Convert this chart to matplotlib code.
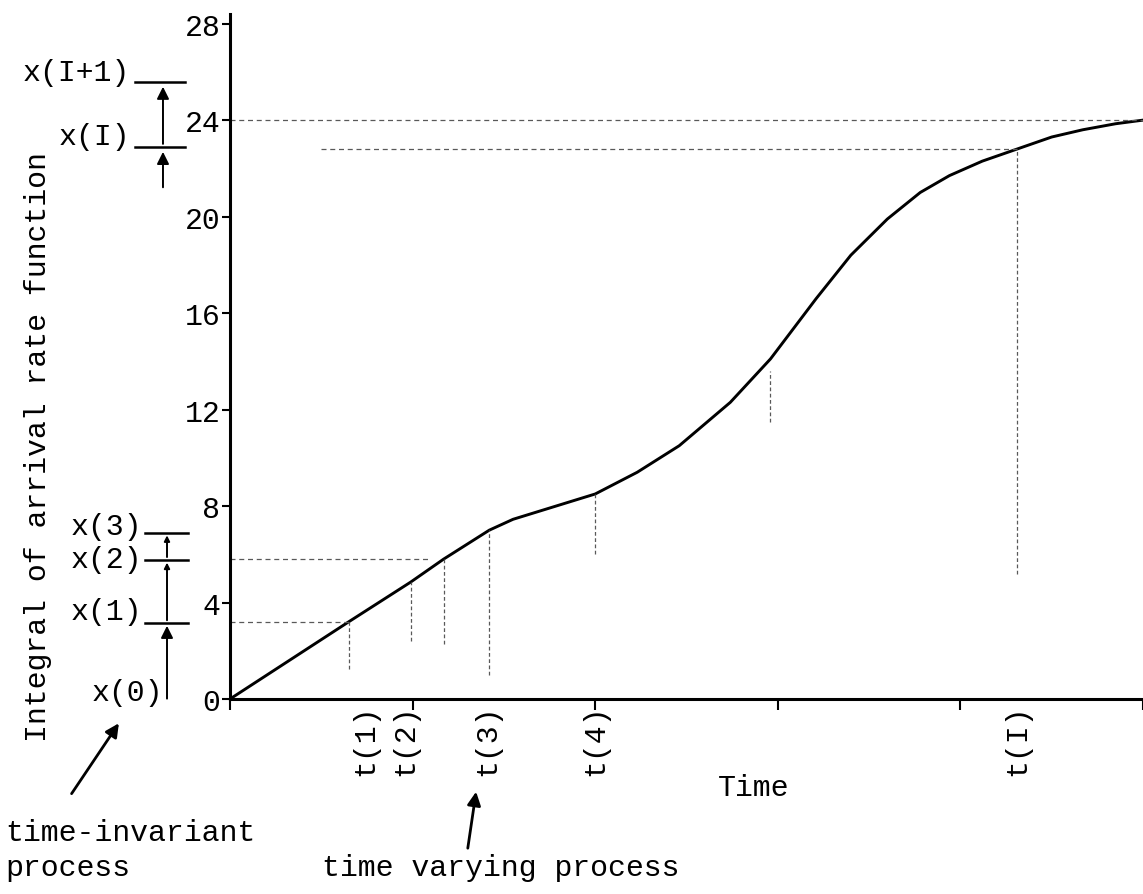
import matplotlib
matplotlib.use("Agg")
import matplotlib.pyplot as plt

# ---- data ----
# integral of the arrival rate function vs time (time axis units = major ticks)
curve_t = [0.0, 0.65, 0.99, 1.17, 1.42, 1.55, 1.7, 2.0, 2.23, 2.46, 2.74, 2.96, 3.21,
           3.4, 3.6, 3.78, 3.94, 4.12, 4.31, 4.5, 4.67, 4.85, 5.0]
curve_v = [0.0, 3.2, 4.85, 5.8, 7.0, 7.45, 7.8, 8.5, 9.4, 10.5, 12.3, 14.1, 16.6,
           18.4, 19.9, 21.0, 21.7, 22.3, 22.8, 23.3, 23.6, 23.85, 24.0]

y_ticks = [0, 4, 8, 12, 16, 20, 24, 28]
x_ticks = [0, 1, 2, 3, 4, 5]

# event times t(k) and their labels
t_names = ["t(1)", "t(2)", "t(3)", "t(4)", "t(I)"]
t_label_pos = [0.74, 0.96, 1.41, 2.0, 4.31]

# dotted guide lines: (x, y_top, y_bottom) and (y, x_left, x_right)
v_guides = [(0.65, 3.2, 1.25), (0.99, 4.85, 2.4), (1.17, 5.8, 2.3), (1.42, 7.0, 1.0),
            (2.0, 8.5, 6.0), (2.96, 13.6, 11.5), (4.31, 22.8, 5.2)]
h_guides = [(3.2, 0.0, 0.65), (5.8, 0.0, 1.1), (24.0, 0.0, 5.0), (22.8, 0.5, 4.31)]

# x(k) levels on the time-invariant scale
x_low_names = ["x(1)", "x(2)", "x(3)"]
x_low_levels = [3.15, 5.77, 6.9]
x_high_names = ["x(I)", "x(I+1)"]
x_high_levels = [22.9, 25.6]

FONT = "Liberation Mono"
FS = 21.5

fig = plt.figure(figsize=(11.43, 8.95), dpi=100)
ax = fig.add_axes([230 / 1143, 195 / 895, 913 / 1143, 685 / 895])

ax.plot(curve_t, curve_v, color="black", lw=2.1, solid_joinstyle="round")

for x, y0, y1 in v_guides:
    ax.plot([x, x], [y1, y0], color="0.35", lw=0.9, ls=(0, (3, 2)))
for y, x0, x1 in h_guides:
    ax.plot([x0, x1], [y, y], color="0.35", lw=0.9, ls=(0, (4, 3)))

ax.set_xlim(0, 5)
ax.set_ylim(0, 28.4)
ax.set_yticks(y_ticks)
ax.set_yticklabels([str(v) for v in y_ticks], fontfamily=FONT, fontsize=FS)
ax.set_xticks(x_ticks)
ax.set_xticklabels([])
ax.tick_params(axis="y", direction="out", length=6, width=1.5, pad=1)
ax.tick_params(axis="x", direction="out", length=8, width=1.5)
for side in ["top", "right"]:
    ax.spines[side].set_visible(False)
for side in ["left", "bottom"]:
    ax.spines[side].set_linewidth(2.2)

# t(k) labels under the axis, rotated
for name, pos in zip(t_names, t_label_pos):
    ax.text(pos, -0.2, name, rotation=90, ha="center", va="top",
            fontfamily=FONT, fontsize=FS)

ax.text(2.67, -3.65, "Time", ha="left", va="center", fontfamily=FONT, fontsize=FS)
fig.text(38 / 1143, 1 - 447 / 895, "Integral of arrival rate function", rotation=90,
         ha="center", va="center", fontfamily=FONT, fontsize=FS)

# left-hand scale: lower x(k) levels
for name, lev in zip(x_low_names, x_low_levels):
    ax.plot([-0.465, -0.23], [lev, lev], color="black", lw=1.8, clip_on=False)
ax.text(-0.48, 3.65, "x(1)", ha="right", va="center", fontfamily=FONT, fontsize=FS)
ax.text(-0.48, 5.8, "x(2)", ha="right", va="center", fontfamily=FONT, fontsize=FS)
ax.text(-0.48, 7.18, "x(3)", ha="right", va="center", fontfamily=FONT, fontsize=FS)
ax.text(-0.367, 0.29, "x(0)", ha="right", va="center", fontfamily=FONT, fontsize=FS)

low_stack = [-0.1] + x_low_levels
for i in range(len(x_low_levels)):
    ax.annotate("", xy=(-0.345, low_stack[i + 1]), xytext=(-0.345, low_stack[i]),
                arrowprops=dict(arrowstyle="-|>", color="black", lw=1.4,
                                mutation_scale=18 if i == 0 else 8),
                annotation_clip=False)

# left-hand scale: upper x(k) levels
for name, lev in zip(x_high_names, x_high_levels):
    ax.plot([-0.52, -0.246], [lev, lev], color="black", lw=1.8, clip_on=False)
ax.text(-0.548, 23.36, "x(I)", ha="right", va="center", fontfamily=FONT, fontsize=FS)
ax.text(-0.548, 26.0, "x(I+1)", ha="right", va="center", fontfamily=FONT, fontsize=FS)
high_stack = [21.1] + x_high_levels
for i in range(len(x_high_levels)):
    ax.annotate("", xy=(-0.367, high_stack[i + 1] - 0.1), xytext=(-0.367, high_stack[i]),
                arrowprops=dict(arrowstyle="-|>", color="black", lw=1.4, mutation_scale=18),
                annotation_clip=False)

# process annotations below the axis
ax.annotate("", xy=(-0.60, -0.91), xytext=(-0.876, -4.02),
            arrowprops=dict(arrowstyle="-|>", color="black", lw=2.0, mutation_scale=20),
            annotation_clip=False)
ax.text(-1.232, -5.52, "time-invariant", ha="left", va="center", fontfamily=FONT, fontsize=FS)
ax.text(-1.232, -6.97, "process", ha="left", va="center", fontfamily=FONT, fontsize=FS)

ax.annotate("", xy=(1.35, -3.73), xytext=(1.30, -6.3),
            arrowprops=dict(arrowstyle="-|>", color="black", lw=2.0, mutation_scale=20),
            annotation_clip=False)
ax.text(0.504, -6.97, "time varying process", ha="left", va="center",
        fontfamily=FONT, fontsize=FS)

fig.savefig("out.png", dpi=100)
